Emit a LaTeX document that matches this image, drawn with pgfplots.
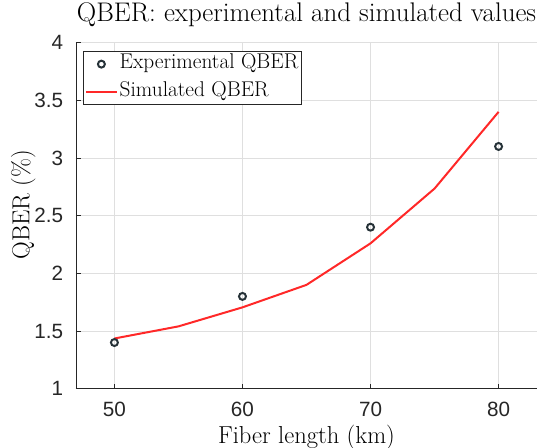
\documentclass[border=0pt]{standalone}
\usepackage{fontspec}
\newfontfamily\ticksans{Liberation Sans}
\usepackage{pgfplots}
\pgfplotsset{compat=1.18}
\definecolor{expc}{RGB}{38,50,56}
\definecolor{simc}{RGB}{255,40,40}
\definecolor{gridc}{RGB}{223,223,223}
\definecolor{axc}{RGB}{38,38,38}
\pgfplotsset{
  legmark/.style={legend image code/.code={\draw[##1] plot coordinates {(11.5pt,0pt)};}},
  legline/.style={legend image code/.code={\draw[##1] (0pt,0pt) -- (23pt,0pt);}},
}
\begin{document}
\begin{tikzpicture}
\begin{axis}[
  scale only axis,
  width=345.75pt, height=259.5pt,
  xmin=47, xmax=83, ymin=1, ymax=4,
  xtick={50,60,70,80},
  ytick={1,1.5,2,2.5,3,3.5,4},
  yticklabels={1,1.5,2,2.5,3,3.5,4},
  xticklabels={50,60,70,80},
  tick label style={font=\fontsize{15.5}{15.5}\ticksans, text=axc},
  yticklabel style={anchor=east, inner sep=0pt, xshift=-9.5pt},
  xticklabel style={anchor=north, inner sep=0pt, yshift=-10pt},
  axis x line*=bottom, axis y line*=left,
  axis line style={axc, line width=0.6pt, -},
  tick style={axc, line width=0.6pt},
  tick align=inside,
  major tick length=3.5pt,
  grid=major,
  major grid style={gridc, line width=0.6pt},
  title={QBER: experimental and simulated values},
  title style={font=\fontsize{20.2}{20.2}\selectfont, at={(axis description cs:0.5,1.0366)}, anchor=base},
  xlabel={Fiber length (km)},
  ylabel={QBER (\%)},
  label style={font=\fontsize{18.4}{18.4}\selectfont},
  xlabel style={at={(axis description cs:0.5,-0.159)}, anchor=base},
  ylabel style={at={(axis description cs:-0.1012,0.532)}, anchor=base},
  legend style={at={(0,1)}, anchor=north west, xshift=5.5pt, yshift=-6.2pt,
    draw=axc, line width=0.6pt, font=\fontsize{16}{16}\selectfont,
    inner xsep=1pt, inner ysep=0pt, row sep=1.6pt,
    nodes={text height=10pt, text depth=3.2pt, inner ysep=3pt, inner xsep=1.5pt},
    cells={anchor=west}},
  legend cell align=left,
]
\addplot[only marks, mark=o, mark size=2.6pt, mark options={expc, line width=1.5pt}, legmark]
  coordinates {(50,1.40) (60,1.80) (70,2.40) (80,3.10)};
\addlegendentry{Experimental QBER}
\addplot[simc, line width=1.5pt, legline]
  coordinates {(50,1.435) (55,1.54) (60,1.705) (65,1.90) (70,2.26) (75,2.735) (80,3.40)};
\addlegendentry{Simulated QBER}
\coordinate (bl) at (rel axis cs:0,0);
\coordinate (tr) at (rel axis cs:1,1);
\end{axis}
\pgfresetboundingbox
\path[use as bounding box] ([xshift=-57pt,yshift=-44.25pt]bl) rectangle ([xshift=2.25pt,yshift=32pt]tr);
\end{tikzpicture}
\end{document}
